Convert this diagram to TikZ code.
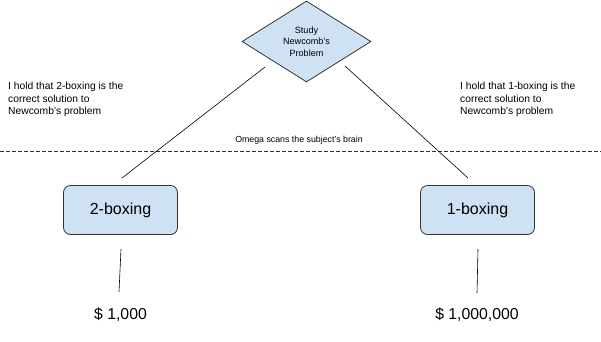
\documentclass[tikz,border=0pt]{standalone}
\usepackage{fontspec}
\setmainfont{Liberation Sans}
\usetikzlibrary{shapes.geometric}
\definecolor{boxfill}{HTML}{CFE2F3}
\definecolor{edge}{HTML}{333333}
\begin{document}
\begin{tikzpicture}[x=1pt,y=-1pt,
  choicebox/.style={draw=edge, fill=boxfill, line width=0.8pt, rounded corners=7pt,
    minimum width=114pt, minimum height=49pt, inner sep=0pt, font=\fontsize{16}{18}\selectfont},
  studybox/.style={draw=edge, fill=boxfill, line width=0.8pt, shape=diamond, inner sep=0pt,
    minimum width=129pt, minimum height=81pt, align=center, font=\fontsize{9.1}{11.5}\selectfont},
  smalltext/.style={align=left, anchor=west, inner sep=0pt, font=\fontsize{10.3}{12.6}\selectfont},
  payoff/.style={inner sep=0pt, font=\fontsize{15.8}{18}\selectfont},
  conn/.style={draw=black, line width=0.6pt}
]
\useasboundingbox (0,0) rectangle (601,341);
\fill[white] (0,0) rectangle (601,341);

\node[studybox] (study) at (306.5,41.5) {Study\\Newcomb's\\Problem};
\node[choicebox] (two) at (120.5,210) {2-boxing};
\node[choicebox] (one) at (477.5,210) {1-boxing};
\node[payoff] (p2) at (120.5,315) {\$ 1,000};
\node[payoff] (p1) at (477,315) {\$ 1,000,000};

\node[smalltext] (lt) at (8,99.5) {I hold that 2-boxing is the\\correct solution to\\Newcomb's problem};
\node[smalltext] (rt) at (460,99.5) {I hold that 1-boxing is the\\correct solution to\\Newcomb's problem};
\node[inner sep=0pt, font=\fontsize{8.8}{10}\selectfont] (omega) at (299,140) {Omega scans the subject's brain};

\coordinate (d1) at (0,151);
\coordinate (d2) at (601,151);
\draw[draw=edge, line width=0.6pt, dash pattern=on 3.5pt off 2.5pt] (d1) -- (d2);

\coordinate (ls) at (265,67);
\coordinate (le) at (122,178);
\coordinate (rs) at (345,66);
\coordinate (re) at (468,178);
\draw[conn] (ls) -- (le);
\draw[conn] (rs) -- (re);

\coordinate (v2s) at (121,249);
\coordinate (v2e) at (119,292);
\coordinate (v1s) at (478,249);
\coordinate (v1e) at (477,293);
\draw[conn] (v2s) -- (v2e);
\draw[conn] (v1s) -- (v1e);
\end{tikzpicture}
\end{document}
